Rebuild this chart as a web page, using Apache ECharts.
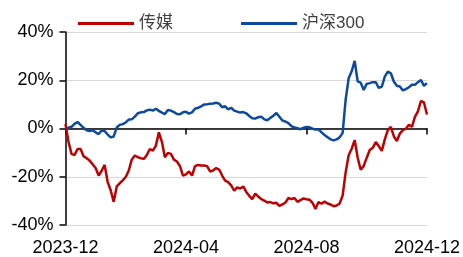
<!DOCTYPE html>
<html>
<head>
<meta charset="utf-8">
<script src="https://cdn.jsdelivr.net/npm/echarts@6/dist/echarts.min.js"></script>
<style>
  html, body { margin: 0; padding: 0; background: #fff; }
  #chart { width: 463px; height: 257px; }
</style>
</head>
<body>
<div id="chart"></div>
<script>
// 每两个交易日取一个点，2023-12 至 2024-12
var tickLabels = ['2023-12', '2024-04', '2024-08', '2024-12'];
var seriesNames = ['传媒', '沪深300'];

// 传媒 累计涨跌幅 (%)
var media = [
  1.8, -5.5, -10.5, -11.0, -8.5, -8.5, -11.5, -12.3, -13.3, -14.8,
  -16.4, -19.5, -17.5, -15.1, -22.2, -25.6, -30.4, -24.0, -22.7, -21.5,
  -20.1, -17.4, -12.9, -11.2, -11.9, -12.3, -12.6, -11.0, -8.5, -9.2,
  -7.1, -1.6, -5.5, -11.9, -10.1, -10.5, -12.9, -13.7, -15.6, -19.5,
  -19.0, -17.8, -19.5, -15.6, -15.1, -15.3, -15.3, -15.6, -17.8, -17.4,
  -16.4, -17.0, -19.5, -21.6, -22.2, -23.6, -25.8, -24.4, -24.9, -24.0,
  -26.3, -27.9, -29.3, -27.0, -28.2, -29.3, -29.9, -30.7, -30.5, -31.0,
  -30.8, -32.1, -31.5, -30.7, -28.8, -29.3, -28.8, -30.4, -29.7, -29.0,
  -29.3, -29.5, -30.8, -33.3, -30.5, -31.2, -30.3, -31.1, -31.5, -32.2,
  -31.9, -31.1, -27.8, -18.2, -11.1, -8.4, -4.8, -12.1, -17.1, -15.5,
  -12.1, -8.9, -8.0, -5.6, -7.3, -9.3, -4.5, -0.7, 0.7, -3.2,
  -5.2, -2.1, -0.7, -0.1, 1.6, 0.7, 4.8, 7.1, 11.4, 10.8,
  5.8
];

// 沪深300 累计涨跌幅 (%)
var hs300 = [
  0.0, 0.3, 0.7, 1.9, 2.7, 1.5, 0.3, -0.7, -1.0, -0.7,
  -1.6, -2.3, -0.8, -1.1, -2.5, -3.7, -3.3, 0.4, 1.5, 1.8,
  2.5, 3.7, 3.8, 4.9, 6.3, 6.7, 6.8, 7.5, 7.8, 7.4,
  8.2, 7.3, 6.6, 6.0, 7.7, 7.4, 6.8, 6.0, 5.9, 6.7,
  6.9, 6.2, 6.7, 8.2, 8.6, 9.2, 9.9, 10.0, 10.3, 10.4,
  10.7, 10.3, 8.8, 9.2, 7.9, 8.6, 7.4, 7.0, 6.6, 6.8,
  6.3, 5.2, 4.2, 4.1, 4.7, 4.9, 3.8, 3.4, 4.4, 5.3,
  6.4, 4.9, 3.3, 2.9, 2.2, 1.0, 0.4, 0.1, -0.3, 0.3,
  0.6, 0.5, -0.1, -0.4, -0.4, -1.6, -2.7, -3.6, -4.5, -4.9,
  -4.5, -3.7, -1.8, 11.9, 20.8, 23.7, 28.0, 19.5, 19.0, 16.0,
  18.5, 18.8, 19.2, 19.2, 16.8, 17.4, 21.5, 23.6, 22.9, 19.5,
  17.7, 17.4, 15.8, 16.3, 17.1, 18.1, 18.1, 19.2, 20.1, 17.7,
  18.8
];

var categories = [];
for (var i = 0; i < media.length; i++) {
    categories.push(String(i));
}
var labelStep = (media.length - 1) / (tickLabels.length - 1);

var chart = echarts.init(document.getElementById('chart'));
var option = {
    animation: false,
    textStyle: {fontFamily: 'Liberation Sans, Arial, sans-serif'},
    legend: {
        left: 73,
        top: 10,
        icon: 'rect',
        itemWidth: 56,
        itemHeight: 3,
        itemGap: 68,
        textStyle: {
            fontSize: 17,
            color: '#404040',
            fontFamily: 'Liberation Sans, Noto Sans CJK SC, sans-serif'
        },
        data: seriesNames
    },
    grid: {left: 65.5, right: 31.5, top: 32, bottom: 30, containLabel: false},
    xAxis: {
        type: 'category',
        boundaryGap: false,
        data: categories,
        axisLine: {lineStyle: {color: '#000', width: 1.5}},
        axisTick: {show: true, interval: labelStep - 1, length: 6, lineStyle: {color: '#000', width: 1.5}},
        axisLabel: {
            interval: labelStep - 1,
            margin: 14,
            fontSize: 18,
            color: '#000',
            showMaxLabel: true,
            formatter: function (v, idx) {
                return tickLabels[Math.round(idx / labelStep)];
            }
        },
        splitLine: {show: false}
    },
    yAxis: {
        type: 'value',
        min: -40,
        max: 40,
        interval: 20,
        axisLine: {show: true, lineStyle: {color: '#000', width: 1.5}},
        axisTick: {show: true, length: 6, lineStyle: {color: '#000', width: 1.5}},
        axisLabel: {
            fontSize: 18,
            color: '#000',
            margin: 12,
            formatter: '{value}%'
        },
        splitLine: {lineStyle: {color: '#D9D9D9', width: 1}}
    },
    series: [
        {
            name: seriesNames[0],
            type: 'line',
            data: media,
            symbol: 'none',
            lineStyle: {color: '#C00000', width: 2.5},
            itemStyle: {color: '#C00000'},
            z: 3
        },
        {
            name: seriesNames[1],
            type: 'line',
            data: hs300,
            symbol: 'none',
            lineStyle: {color: '#0B4A9E', width: 2.5},
            itemStyle: {color: '#0B4A9E'},
            z: 2
        }
    ]
};
chart.setOption(option);
</script>
</body>
</html>
